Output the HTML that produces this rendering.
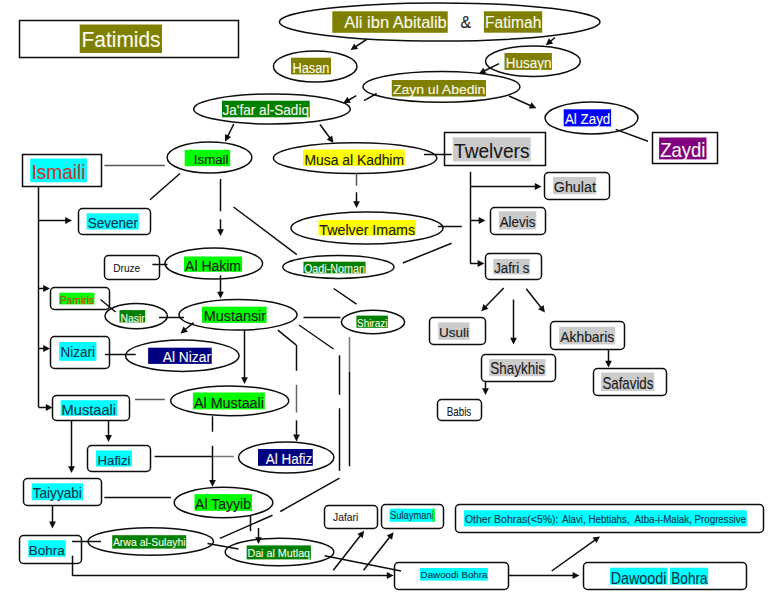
<!DOCTYPE html><html><head><meta charset="utf-8"><style>html,body{margin:0;padding:0;background:#fff;width:776px;height:600px;overflow:hidden}svg{display:block}text{font-family:"Liberation Sans",sans-serif}</style></head><body>
<svg width="776" height="600" viewBox="0 0 776 600">
<rect x="0" y="0" width="776" height="600" fill="#fff"/>
<ellipse cx="439.7" cy="22" rx="160.3" ry="19" fill="none" stroke="#0d0d0d" stroke-width="1.5"/>
<ellipse cx="315.2" cy="66.5" rx="41.8" ry="15.5" fill="none" stroke="#0d0d0d" stroke-width="1.5"/>
<ellipse cx="532.9" cy="61.2" rx="47.4" ry="15.2" fill="none" stroke="#0d0d0d" stroke-width="1.5"/>
<ellipse cx="441.5" cy="86.8" rx="78.5" ry="15.4" fill="none" stroke="#0d0d0d" stroke-width="1.5"/>
<ellipse cx="272" cy="109" rx="78.3" ry="15" fill="none" stroke="#0d0d0d" stroke-width="1.5"/>
<ellipse cx="591.5" cy="118" rx="46.5" ry="16" fill="none" stroke="#0d0d0d" stroke-width="1.5"/>
<ellipse cx="209.5" cy="157.5" rx="42.4" ry="15.5" fill="none" stroke="#0d0d0d" stroke-width="1.5"/>
<ellipse cx="355.1" cy="158.1" rx="81.7" ry="15.4" fill="none" stroke="#0d0d0d" stroke-width="1.5"/>
<ellipse cx="367" cy="228" rx="76" ry="16" fill="none" stroke="#0d0d0d" stroke-width="1.5"/>
<ellipse cx="213.8" cy="263.5" rx="48.8" ry="15.5" fill="none" stroke="#0d0d0d" stroke-width="1.5"/>
<ellipse cx="338.4" cy="267" rx="55.6" ry="11.4" fill="none" stroke="#0d0d0d" stroke-width="1.5"/>
<ellipse cx="136.2" cy="316.1" rx="31.2" ry="12.6" fill="none" stroke="#0d0d0d" stroke-width="1.5"/>
<ellipse cx="238" cy="314.8" rx="59" ry="15.3" fill="none" stroke="#0d0d0d" stroke-width="1.5"/>
<ellipse cx="373" cy="322" rx="31.6" ry="11.7" fill="none" stroke="#0d0d0d" stroke-width="1.5"/>
<ellipse cx="182.3" cy="355.7" rx="56.7" ry="15.7" fill="none" stroke="#0d0d0d" stroke-width="1.5"/>
<ellipse cx="229.7" cy="400.8" rx="59" ry="14.9" fill="none" stroke="#0d0d0d" stroke-width="1.5"/>
<ellipse cx="286.2" cy="457.5" rx="47.7" ry="15.5" fill="none" stroke="#0d0d0d" stroke-width="1.5"/>
<ellipse cx="223.5" cy="502.5" rx="49.3" ry="15.3" fill="none" stroke="#0d0d0d" stroke-width="1.5"/>
<ellipse cx="150.7" cy="541.5" rx="62.7" ry="13.75" fill="none" stroke="#0d0d0d" stroke-width="1.5"/>
<ellipse cx="279.5" cy="552" rx="54.3" ry="13.8" fill="none" stroke="#0d0d0d" stroke-width="1.5"/>
<rect x="19.5" y="20.5" width="219" height="37" rx="0" fill="none" stroke="#0d0d0d" stroke-width="1.5"/>
<rect x="22.5" y="154.5" width="79" height="32" rx="0" fill="none" stroke="#0d0d0d" stroke-width="1.5"/>
<rect x="444.5" y="132.5" width="101" height="33" rx="0" fill="none" stroke="#0d0d0d" stroke-width="1.5"/>
<rect x="652.5" y="132.5" width="65" height="31" rx="0" fill="none" stroke="#0d0d0d" stroke-width="1.5"/>
<rect x="78.5" y="208.5" width="72" height="26" rx="4" fill="none" stroke="#0d0d0d" stroke-width="1.5"/>
<rect x="104.5" y="255.5" width="55" height="24" rx="4" fill="none" stroke="#0d0d0d" stroke-width="1.5"/>
<rect x="50.5" y="287.5" width="59" height="22" rx="4" fill="none" stroke="#0d0d0d" stroke-width="1.5"/>
<rect x="50.5" y="336.5" width="59" height="32" rx="4" fill="none" stroke="#0d0d0d" stroke-width="1.5"/>
<rect x="52.5" y="395.5" width="77" height="25" rx="4" fill="none" stroke="#0d0d0d" stroke-width="1.5"/>
<rect x="87.5" y="445.5" width="63" height="26" rx="4" fill="none" stroke="#0d0d0d" stroke-width="1.5"/>
<rect x="23.5" y="478.5" width="78" height="27" rx="4" fill="none" stroke="#0d0d0d" stroke-width="1.5"/>
<rect x="19.5" y="535.5" width="62" height="28" rx="4" fill="none" stroke="#0d0d0d" stroke-width="1.5"/>
<rect x="544.5" y="172.5" width="65" height="27" rx="4" fill="none" stroke="#0d0d0d" stroke-width="1.5"/>
<rect x="490.5" y="207.5" width="55" height="27" rx="4" fill="none" stroke="#0d0d0d" stroke-width="1.5"/>
<rect x="485.5" y="253.5" width="56" height="26" rx="4" fill="none" stroke="#0d0d0d" stroke-width="1.5"/>
<rect x="429.5" y="317.5" width="56" height="27" rx="4" fill="none" stroke="#0d0d0d" stroke-width="1.5"/>
<rect x="550.5" y="321.5" width="74" height="28" rx="4" fill="none" stroke="#0d0d0d" stroke-width="1.5"/>
<rect x="481.5" y="354.5" width="74" height="27" rx="4" fill="none" stroke="#0d0d0d" stroke-width="1.5"/>
<rect x="593.5" y="368.5" width="73" height="27" rx="4" fill="none" stroke="#0d0d0d" stroke-width="1.5"/>
<rect x="437.5" y="399.5" width="44" height="21" rx="4" fill="none" stroke="#0d0d0d" stroke-width="1.5"/>
<rect x="324.5" y="505.5" width="53" height="23" rx="4" fill="none" stroke="#0d0d0d" stroke-width="1.5"/>
<rect x="381.5" y="504.5" width="62" height="24" rx="4" fill="none" stroke="#0d0d0d" stroke-width="1.5"/>
<rect x="455.5" y="504.5" width="308" height="28" rx="4" fill="none" stroke="#0d0d0d" stroke-width="1.5"/>
<rect x="394.5" y="562.5" width="114" height="27" rx="4" fill="none" stroke="#0d0d0d" stroke-width="1.5"/>
<rect x="583.5" y="562.5" width="163" height="27" rx="4" fill="none" stroke="#0d0d0d" stroke-width="1.5"/>
<rect x="79.7" y="24.5" width="82.3" height="28.5" fill="#808000"/>
<text x="81.6" y="46.7" font-size="21.8" fill="#fbfbf0" stroke="#fbfbf0" stroke-width="0.1" textLength="78.9" lengthAdjust="spacingAndGlyphs" xml:space="preserve">Fatimids</text>
<rect x="332.3" y="11.3" width="115.4" height="21.5" fill="#808000"/>
<text x="344.2" y="28" font-size="16.28" fill="#fbfbf0" stroke="#fbfbf0" stroke-width="0.1" textLength="102.6" lengthAdjust="spacingAndGlyphs" xml:space="preserve">Ali ibn Abitalib</text>
<rect x="483.9" y="11.3" width="58.3" height="21.4" fill="#808000"/>
<text x="485" y="27.8" font-size="15.7" fill="#fbfbf0" stroke="#fbfbf0" stroke-width="0.1" textLength="56.3" lengthAdjust="spacingAndGlyphs" xml:space="preserve">Fatimah</text>
<rect x="291" y="57.7" width="40" height="16.7" fill="#808000"/>
<text x="292.5" y="73.2" font-size="14.68" fill="#fbfbf0" stroke="#fbfbf0" stroke-width="0.1" textLength="37" lengthAdjust="spacingAndGlyphs" xml:space="preserve">Hasan</text>
<rect x="504.5" y="53" width="47.4" height="16.9" fill="#808000"/>
<text x="505.7" y="68.3" font-size="13.95" fill="#fbfbf0" stroke="#fbfbf0" stroke-width="0.1" textLength="45.7" lengthAdjust="spacingAndGlyphs" xml:space="preserve">Husayn</text>
<rect x="391.8" y="80" width="94.2" height="16.5" fill="#808000"/>
<text x="392.9" y="94.2" font-size="13.37" fill="#fbfbf0" stroke="#fbfbf0" stroke-width="0.1" textLength="92.5" lengthAdjust="spacingAndGlyphs" xml:space="preserve">Zayn ul Abedin</text>
<rect x="222" y="100.7" width="87.7" height="16.6" fill="#008000"/>
<text x="222.5" y="115.3" font-size="14.1" fill="#fbfbf0" stroke="#fbfbf0" stroke-width="0.1" textLength="86.5" lengthAdjust="spacingAndGlyphs" xml:space="preserve">Ja'far al-Sadiq</text>
<rect x="563.7" y="109.3" width="47.4" height="17.1" fill="#0000ff"/>
<text x="564.9" y="124.3" font-size="14.39" fill="#fbfbf0" stroke="#fbfbf0" stroke-width="0.1" textLength="45.4" lengthAdjust="spacingAndGlyphs" xml:space="preserve">Al Zayd</text>
<rect x="659.1" y="137.5" width="47.4" height="21.9" fill="#800080"/>
<text x="660.2" y="156.7" font-size="19.48" fill="#fbfbf0" stroke="#fbfbf0" stroke-width="0.1" textLength="45.3" lengthAdjust="spacingAndGlyphs" xml:space="preserve">Zaydi</text>
<rect x="30.2" y="158.5" width="56.8" height="23.7" fill="#00ffff"/>
<text x="31.5" y="179.2" font-size="19.62" fill="#c0392b" stroke="#c0392b" stroke-width="0.12" textLength="54" lengthAdjust="spacingAndGlyphs" xml:space="preserve">Ismaili</text>
<rect x="184.7" y="149.8" width="45.5" height="16.4" fill="#00ff00"/>
<text x="193.8" y="164.4" font-size="13.08" fill="#1a1a1a" stroke="#1a1a1a" stroke-width="0.12" textLength="34.7" lengthAdjust="spacingAndGlyphs" xml:space="preserve">Ismail</text>
<rect x="303" y="149.6" width="101.7" height="16.3" fill="#ffff00"/>
<text x="304.5" y="164.6" font-size="14.53" fill="#1a1a1a" stroke="#1a1a1a" stroke-width="0.12" textLength="99.5" lengthAdjust="spacingAndGlyphs" xml:space="preserve">Musa al Kadhim</text>
<rect x="452.8" y="137.4" width="77.9" height="24.1" fill="#cbcbcb"/>
<text x="454" y="157.6" font-size="20.2" fill="#1a1a1a" stroke="#1a1a1a" stroke-width="0.12" textLength="75.5" lengthAdjust="spacingAndGlyphs" xml:space="preserve">Twelvers</text>
<rect x="553.2" y="177" width="43.1" height="17.2" fill="#cbcbcb"/>
<text x="553.8" y="192" font-size="14.68" fill="#1a1a1a" stroke="#1a1a1a" stroke-width="0.12" textLength="42.1" lengthAdjust="spacingAndGlyphs" xml:space="preserve">Ghulat</text>
<rect x="86.6" y="213.3" width="52.1" height="16.2" fill="#00ffff"/>
<text x="87.7" y="228" font-size="14.39" fill="#10324a" stroke="#10324a" stroke-width="0.12" textLength="50.3" lengthAdjust="spacingAndGlyphs" xml:space="preserve">Sevener</text>
<rect x="318.5" y="220" width="97.4" height="15.5" fill="#ffff00"/>
<text x="319.3" y="234.7" font-size="14.53" fill="#1a1a1a" stroke="#1a1a1a" stroke-width="0.12" textLength="95.8" lengthAdjust="spacingAndGlyphs" xml:space="preserve">Twelver Imams</text>
<rect x="498.8" y="211.3" width="37.5" height="18.3" fill="#cbcbcb"/>
<text x="499.7" y="226.5" font-size="14.1" fill="#1a1a1a" stroke="#1a1a1a" stroke-width="0.12" textLength="35.7" lengthAdjust="spacingAndGlyphs" xml:space="preserve">Alevis</text>
<rect x="184" y="256.5" width="58.1" height="15.3" fill="#00ff00"/>
<text x="185.1" y="270.7" font-size="15.26" fill="#1a1a1a" stroke="#1a1a1a" stroke-width="0.12" textLength="55.9" lengthAdjust="spacingAndGlyphs" xml:space="preserve">Al Hakim</text>
<rect x="303.5" y="261.7" width="62" height="11.6" fill="#008000"/>
<text x="304" y="272.5" font-size="12.06" fill="#fbfbf0" stroke="#fbfbf0" stroke-width="0.1" textLength="61" lengthAdjust="spacingAndGlyphs" xml:space="preserve">Qadi-Noman</text>
<rect x="493.3" y="258.9" width="36.6" height="15.6" fill="#cbcbcb"/>
<text x="494.2" y="273" font-size="13.81" fill="#1a1a1a" stroke="#1a1a1a" stroke-width="0.12" textLength="35.2" lengthAdjust="spacingAndGlyphs" xml:space="preserve">Jafri s</text>
<rect x="59.2" y="292.7" width="35.2" height="11.7" fill="#00ff00"/>
<text x="59.7" y="303.9" font-size="10.9" fill="#c0401c" stroke="#c0401c" stroke-width="0.12" textLength="34.4" lengthAdjust="spacingAndGlyphs" xml:space="preserve">Pamiris</text>
<rect x="119.5" y="310.1" width="25.7" height="12.3" fill="#008000"/>
<text x="120.4" y="321.5" font-size="10.9" fill="#fbfbf0" stroke="#fbfbf0" stroke-width="0.1" textLength="24.3" lengthAdjust="spacingAndGlyphs" xml:space="preserve">Nasir</text>
<rect x="202" y="306.7" width="64.6" height="16.2" fill="#00ff00"/>
<text x="203.8" y="321.4" font-size="13.81" fill="#1a1a1a" stroke="#1a1a1a" stroke-width="0.12" textLength="62.3" lengthAdjust="spacingAndGlyphs" xml:space="preserve">Mustansir</text>
<rect x="356.4" y="315.6" width="31.5" height="12.2" fill="#008000"/>
<text x="357" y="327.2" font-size="11.19" fill="#fbfbf0" stroke="#fbfbf0" stroke-width="0.1" textLength="30.4" lengthAdjust="spacingAndGlyphs" xml:space="preserve">Shirazi</text>
<rect x="438.2" y="322.4" width="31.3" height="17.4" fill="#cbcbcb"/>
<text x="439" y="336.9" font-size="13.23" fill="#1a1a1a" stroke="#1a1a1a" stroke-width="0.12" textLength="30.1" lengthAdjust="spacingAndGlyphs" xml:space="preserve">Usuli</text>
<rect x="559.1" y="326.8" width="56.1" height="17.6" fill="#cbcbcb"/>
<text x="560.3" y="341.9" font-size="14.97" fill="#1a1a1a" stroke="#1a1a1a" stroke-width="0.12" textLength="53.9" lengthAdjust="spacingAndGlyphs" xml:space="preserve">Akhbaris</text>
<rect x="59.2" y="342" width="37.2" height="18.8" fill="#00ffff"/>
<text x="60.5" y="356.9" font-size="14.39" fill="#10324a" stroke="#10324a" stroke-width="0.12" textLength="34.4" lengthAdjust="spacingAndGlyphs" xml:space="preserve">Nizari</text>
<rect x="148.1" y="347.7" width="63.6" height="16.2" fill="#000080"/>
<text x="162.8" y="362.4" font-size="14.39" fill="#fbfbf0" stroke="#fbfbf0" stroke-width="0.1" textLength="48.2" lengthAdjust="spacingAndGlyphs" xml:space="preserve">Al Nizar</text>
<rect x="489.3" y="359.1" width="56.3" height="17.1" fill="#cbcbcb"/>
<text x="490.3" y="374.3" font-size="15.7" fill="#1a1a1a" stroke="#1a1a1a" stroke-width="0.12" textLength="54.6" lengthAdjust="spacingAndGlyphs" xml:space="preserve">Shaykhis</text>
<rect x="601.2" y="372.5" width="53.1" height="18.4" fill="#cbcbcb"/>
<text x="602.4" y="388.5" font-size="15.99" fill="#1a1a1a" stroke="#1a1a1a" stroke-width="0.12" textLength="51" lengthAdjust="spacingAndGlyphs" xml:space="preserve">Safavids</text>
<rect x="192.9" y="392.5" width="71.9" height="16.9" fill="#00ff00"/>
<text x="194" y="407.6" font-size="14.24" fill="#1a1a1a" stroke="#1a1a1a" stroke-width="0.12" textLength="69.9" lengthAdjust="spacingAndGlyphs" xml:space="preserve">Al Mustaali</text>
<rect x="60.7" y="400.2" width="56.3" height="15.6" fill="#00ffff"/>
<text x="61.6" y="414.9" font-size="15.12" fill="#10324a" stroke="#10324a" stroke-width="0.12" textLength="54.5" lengthAdjust="spacingAndGlyphs" xml:space="preserve">Mustaali</text>
<rect x="96" y="450.4" width="35.9" height="16.2" fill="#00ffff"/>
<text x="97.6" y="465.4" font-size="13.66" fill="#10324a" stroke="#10324a" stroke-width="0.12" textLength="32.9" lengthAdjust="spacingAndGlyphs" xml:space="preserve">Hafizi</text>
<rect x="258" y="449" width="54.8" height="16.8" fill="#000080"/>
<text x="265.8" y="463.8" font-size="14.39" fill="#fbfbf0" stroke="#fbfbf0" stroke-width="0.1" textLength="46.4" lengthAdjust="spacingAndGlyphs" xml:space="preserve">Al Hafiz</text>
<rect x="31.7" y="483.3" width="51.3" height="16.9" fill="#00ffff"/>
<text x="32.75" y="498.25" font-size="14.17" fill="#10324a" stroke="#10324a" stroke-width="0.12" textLength="49.05" lengthAdjust="spacingAndGlyphs" xml:space="preserve">Taiyyabi</text>
<rect x="194.5" y="494.1" width="57.5" height="16.7" fill="#00ff00"/>
<text x="195.1" y="509.2" font-size="14.24" fill="#1a1a1a" stroke="#1a1a1a" stroke-width="0.12" textLength="55.9" lengthAdjust="spacingAndGlyphs" xml:space="preserve">Al Tayyib</text>
<rect x="389.5" y="508.7" width="45.2" height="13.1" fill="#00ffff"/>
<text x="390" y="519.3" font-size="10.47" fill="#10324a" stroke="#10324a" stroke-width="0.12" textLength="43.9" lengthAdjust="spacingAndGlyphs" xml:space="preserve">Sulaymani</text>
<rect x="463.9" y="510.2" width="282.9" height="16.2" fill="#00ffff"/>
<text x="464.9" y="523" font-size="11.34" fill="#10324a" stroke="#10324a" stroke-width="0.12" textLength="93.6" lengthAdjust="spacingAndGlyphs" xml:space="preserve">Other Bohras(&lt;5%):</text>
<rect x="746.8" y="510.2" width="0" height="16.2" fill="#00ffff"/>
<text x="561.9" y="523" font-size="10.61" fill="#10324a" stroke="#10324a" stroke-width="0.12" textLength="184.1" lengthAdjust="spacingAndGlyphs" xml:space="preserve">Alavi, Hebtiahs,  Atba-i-Malak, Progressive</text>
<rect x="432.6" y="508.7" width="2.1" height="13.1" fill="#00ff00"/>
<rect x="28.25" y="540.25" width="37.5" height="16.5" fill="#00ffff"/>
<text x="28.7" y="554.5" font-size="13.08" fill="#10324a" stroke="#10324a" stroke-width="0.12" textLength="36" lengthAdjust="spacingAndGlyphs" xml:space="preserve">Bohra</text>
<rect x="112.2" y="535.2" width="74" height="13.4" fill="#008000"/>
<text x="112.9" y="546.2" font-size="10.9" fill="#fbfbf0" stroke="#fbfbf0" stroke-width="0.1" textLength="72.7" lengthAdjust="spacingAndGlyphs" xml:space="preserve">Arwa al-Sulayhi</text>
<rect x="246.7" y="545.4" width="64.2" height="14" fill="#008000"/>
<text x="247.4" y="556.7" font-size="11.05" fill="#fbfbf0" stroke="#fbfbf0" stroke-width="0.1" textLength="62.7" lengthAdjust="spacingAndGlyphs" xml:space="preserve">Dai al Mutlaq</text>
<rect x="419.8" y="568" width="68.1" height="12.6" fill="#00ffff"/>
<text x="420.6" y="577.7" font-size="9.88" fill="#10324a" stroke="#10324a" stroke-width="0.12" textLength="66.9" lengthAdjust="spacingAndGlyphs" xml:space="preserve">Dawoodi Bohra</text>
<rect x="610" y="567.7" width="57.6" height="16.9" fill="#00ffff"/>
<text x="610.7" y="583.5" font-size="15.99" fill="#10324a" stroke="#10324a" stroke-width="0.12" textLength="55.8" lengthAdjust="spacingAndGlyphs" xml:space="preserve">Dawoodi</text>
<rect x="669.8" y="567.7" width="38.4" height="16.9" fill="#00ffff"/>
<text x="671.3" y="583.5" font-size="15.99" fill="#10324a" stroke="#10324a" stroke-width="0.12" textLength="36.2" lengthAdjust="spacingAndGlyphs" xml:space="preserve">Bohra</text>
<text x="460.4" y="28" font-size="15.99" fill="#1a1a1a" stroke="#1a1a1a" stroke-width="0.1" textLength="10.6" lengthAdjust="spacingAndGlyphs">&amp;</text>
<text x="113.3" y="271.8" font-size="11.19" fill="#1a1a1a" stroke="#1a1a1a" stroke-width="0.1" textLength="26.9" lengthAdjust="spacingAndGlyphs">Druze</text>
<text x="446.75" y="416.25" font-size="11.99" fill="#1a1a1a" stroke="#1a1a1a" stroke-width="0.1" textLength="24.5" lengthAdjust="spacingAndGlyphs">Babis</text>
<text x="333.1" y="520.9" font-size="10.47" fill="#1a1a1a" stroke="#1a1a1a" stroke-width="0.1" textLength="25.1" lengthAdjust="spacingAndGlyphs">Jafari</text>
<line x1="366.5" y1="39.5" x2="355.05" y2="47.02" stroke="#0d0d0d" stroke-width="1.5"/>
<polygon points="350.5,50 354.32,43.43 358.05,49.11" fill="#0d0d0d"/>
<line x1="555" y1="37.5" x2="549.97" y2="41.71" stroke="#0d0d0d" stroke-width="1.5"/>
<polygon points="545.8,45.2 548.83,38.23 553.2,43.44" fill="#0d0d0d"/>
<line x1="499" y1="63.7" x2="483.68" y2="71.29" stroke="#0d0d0d" stroke-width="1.5"/>
<polygon points="478.8,73.7 483.39,67.64 486.4,73.73" fill="#0d0d0d"/>
<line x1="509" y1="96" x2="531.43" y2="105.99" stroke="#0d0d0d" stroke-width="1.5"/>
<polygon points="536.4,108.2 528.8,108.54 531.57,102.33" fill="#0d0d0d"/>
<line x1="356.3" y1="95.7" x2="347.92" y2="100.5" stroke="#0d0d0d" stroke-width="1.5"/>
<polygon points="343.2,103.2 347.41,96.87 350.79,102.77" fill="#0d0d0d"/>
<line x1="364" y1="100.6" x2="376.7" y2="93.5" stroke="#0d0d0d" stroke-width="1.5"/>
<line x1="320" y1="124.5" x2="330.28" y2="138.51" stroke="#0d0d0d" stroke-width="1.5"/>
<polygon points="333.5,142.9 326.74,139.43 332.22,135.41" fill="#0d0d0d"/>
<line x1="233.8" y1="124" x2="227.42" y2="136.83" stroke="#0d0d0d" stroke-width="1.5"/>
<polygon points="225,141.7 224.98,134.1 231.07,137.12" fill="#0d0d0d"/>
<line x1="104.5" y1="165.5" x2="164.8" y2="165.5" stroke="#555" stroke-width="1.5"/>
<line x1="38.5" y1="186.3" x2="38.5" y2="407.4" stroke="#0d0d0d" stroke-width="1.5"/>
<line x1="38.7" y1="220.5" x2="66.56" y2="220.5" stroke="#0d0d0d" stroke-width="1.5"/>
<polygon points="72,220.5 65.2,223.9 65.2,217.1" fill="#0d0d0d"/>
<line x1="38.7" y1="288.5" x2="44.56" y2="288.5" stroke="#0d0d0d" stroke-width="1.5"/>
<polygon points="50,288.5 43.2,291.9 43.2,285.1" fill="#0d0d0d"/>
<line x1="38.7" y1="348.5" x2="44.56" y2="348.5" stroke="#0d0d0d" stroke-width="1.5"/>
<polygon points="50,348.5 43.2,351.9 43.2,345.1" fill="#0d0d0d"/>
<line x1="38.7" y1="407.5" x2="47.16" y2="407.5" stroke="#0d0d0d" stroke-width="1.5"/>
<polygon points="52.6,407.5 45.8,410.9 45.8,404.1" fill="#0d0d0d"/>
<line x1="180" y1="173.5" x2="150" y2="199.7" stroke="#0d0d0d" stroke-width="1.5"/>
<line x1="220.5" y1="179" x2="220.5" y2="211.25" stroke="#0d0d0d" stroke-width="1.5"/>
<line x1="220.5" y1="219.4" x2="220.5" y2="230.56" stroke="#0d0d0d" stroke-width="1.5"/>
<polygon points="220.5,236 217.1,229.2 223.9,229.2" fill="#0d0d0d"/>
<line x1="233.5" y1="207" x2="296.8" y2="254.6" stroke="#0d0d0d" stroke-width="1.5"/>
<line x1="152.4" y1="264.5" x2="167.5" y2="264.5" stroke="#0d0d0d" stroke-width="1.5"/>
<line x1="220.5" y1="275.4" x2="220.5" y2="293.16" stroke="#0d0d0d" stroke-width="1.5"/>
<polygon points="220.5,298.6 217.1,291.8 223.9,291.8" fill="#0d0d0d"/>
<line x1="100.5" y1="299.5" x2="115.6" y2="312" stroke="#0d0d0d" stroke-width="1.5"/>
<line x1="159" y1="317.5" x2="184" y2="317.5" stroke="#0d0d0d" stroke-width="1.5"/>
<line x1="193.6" y1="322.6" x2="184.68" y2="330.02" stroke="#0d0d0d" stroke-width="1.5"/>
<polygon points="180.5,333.5 183.55,326.54 187.9,331.76" fill="#0d0d0d"/>
<line x1="104.9" y1="354.5" x2="135.7" y2="354.5" stroke="#0d0d0d" stroke-width="1.5"/>
<line x1="244.5" y1="330" x2="244.5" y2="378.56" stroke="#0d0d0d" stroke-width="1.5"/>
<polygon points="244.5,384 241.1,377.2 247.9,377.2" fill="#0d0d0d"/>
<line x1="135" y1="399.5" x2="164.8" y2="399.5" stroke="#555" stroke-width="1.5"/>
<line x1="303.5" y1="317.5" x2="340.4" y2="317.5" stroke="#0d0d0d" stroke-width="1.5"/>
<line x1="333.7" y1="288.5" x2="356.5" y2="304.2" stroke="#0d0d0d" stroke-width="1.5"/>
<line x1="424" y1="154.5" x2="451.6" y2="154.5" stroke="#0d0d0d" stroke-width="1.5"/>
<line x1="356.5" y1="173.2" x2="356.5" y2="185.7" stroke="#555" stroke-width="1.5"/>
<line x1="356.5" y1="192.3" x2="356.5" y2="202.56" stroke="#0d0d0d" stroke-width="1.5"/>
<polygon points="356.5,208 353.1,201.2 359.9,201.2" fill="#0d0d0d"/>
<line x1="438" y1="226.5" x2="461.8" y2="226.5" stroke="#0d0d0d" stroke-width="1.5"/>
<line x1="470.5" y1="171.8" x2="470.5" y2="263.6" stroke="#0d0d0d" stroke-width="1.5"/>
<line x1="470.3" y1="186.5" x2="536.16" y2="186.5" stroke="#0d0d0d" stroke-width="1.5"/>
<polygon points="541.6,186.5 534.8,189.9 534.8,183.1" fill="#0d0d0d"/>
<line x1="470.3" y1="220.5" x2="480.06" y2="220.5" stroke="#0d0d0d" stroke-width="1.5"/>
<polygon points="485.5,220.5 478.7,223.9 478.7,217.1" fill="#0d0d0d"/>
<line x1="470.3" y1="263.5" x2="478.96" y2="263.5" stroke="#0d0d0d" stroke-width="1.5"/>
<polygon points="484.4,263.5 477.6,266.9 477.6,260.1" fill="#0d0d0d"/>
<line x1="451.6" y1="243.2" x2="402.8" y2="263" stroke="#0d0d0d" stroke-width="1.5"/>
<line x1="503.75" y1="288" x2="485.03" y2="307.34" stroke="#0d0d0d" stroke-width="1.5"/>
<polygon points="481.25,311.25 483.54,304 488.42,308.73" fill="#0d0d0d"/>
<line x1="513.5" y1="299.5" x2="513.5" y2="339.06" stroke="#0d0d0d" stroke-width="1.5"/>
<polygon points="513.5,344.5 510.1,337.7 516.9,337.7" fill="#0d0d0d"/>
<line x1="526.25" y1="288.75" x2="541.63" y2="308.23" stroke="#0d0d0d" stroke-width="1.5"/>
<polygon points="545,312.5 538.12,309.27 543.46,305.06" fill="#0d0d0d"/>
<line x1="608.5" y1="349" x2="608.5" y2="362.06" stroke="#0d0d0d" stroke-width="1.5"/>
<polygon points="608.5,367.5 605.1,360.7 611.9,360.7" fill="#0d0d0d"/>
<line x1="485.5" y1="381" x2="485.5" y2="389.56" stroke="#0d0d0d" stroke-width="1.5"/>
<polygon points="485.5,395 482.1,388.2 488.9,388.2" fill="#0d0d0d"/>
<line x1="615.7" y1="129.4" x2="648" y2="141.3" stroke="#0d0d0d" stroke-width="1.5"/>
<line x1="277.9" y1="330.2" x2="296" y2="344.8" stroke="#0d0d0d" stroke-width="1.5"/>
<line x1="296.5" y1="344.8" x2="296.5" y2="370.8" stroke="#0d0d0d" stroke-width="1.5"/>
<line x1="296.5" y1="384.8" x2="296.5" y2="412.6" stroke="#666" stroke-width="1.5"/>
<line x1="296.5" y1="420.3" x2="296.5" y2="435.96" stroke="#0d0d0d" stroke-width="1.5"/>
<polygon points="296.5,441.4 293.1,434.6 299.9,434.6" fill="#0d0d0d"/>
<line x1="299" y1="325" x2="333.5" y2="349" stroke="#0d0d0d" stroke-width="1.5"/>
<line x1="339.5" y1="355.2" x2="339.5" y2="394.8" stroke="#0d0d0d" stroke-width="1.5"/>
<line x1="339.5" y1="408.3" x2="339.5" y2="470.9" stroke="#0d0d0d" stroke-width="1.5"/>
<line x1="349.5" y1="337" x2="349.5" y2="372" stroke="#777" stroke-width="1.5"/>
<line x1="349.5" y1="372" x2="349.5" y2="466.3" stroke="#0d0d0d" stroke-width="1.5"/>
<line x1="212.5" y1="416.3" x2="212.5" y2="431.7" stroke="#0d0d0d" stroke-width="1.5"/>
<line x1="212.5" y1="445.8" x2="212.5" y2="481.36" stroke="#0d0d0d" stroke-width="1.5"/>
<polygon points="212.5,486.8 209.1,480 215.9,480" fill="#0d0d0d"/>
<line x1="108.5" y1="420" x2="108.5" y2="436.46" stroke="#0d0d0d" stroke-width="1.5"/>
<polygon points="108.5,441.9 105.1,435.1 111.9,435.1" fill="#0d0d0d"/>
<line x1="71.5" y1="420" x2="71.5" y2="467.56" stroke="#0d0d0d" stroke-width="1.5"/>
<polygon points="71.5,473 68.1,466.2 74.9,466.2" fill="#0d0d0d"/>
<line x1="154.7" y1="456.5" x2="213" y2="456.5" stroke="#0d0d0d" stroke-width="1.5"/>
<line x1="213" y1="456.5" x2="233.8" y2="456.5" stroke="#777" stroke-width="1.5"/>
<line x1="104.4" y1="497.5" x2="170.9" y2="497.5" stroke="#0d0d0d" stroke-width="1.5"/>
<line x1="52.5" y1="505.6" x2="52.5" y2="522.96" stroke="#0d0d0d" stroke-width="1.5"/>
<polygon points="52.5,528.4 49.1,521.6 55.9,521.6" fill="#0d0d0d"/>
<line x1="72" y1="541.5" x2="101" y2="541.5" stroke="#0d0d0d" stroke-width="1.5"/>
<line x1="72.5" y1="555.6" x2="72.5" y2="575.8" stroke="#0d0d0d" stroke-width="1.5"/>
<line x1="72.6" y1="575.5" x2="388.16" y2="575.5" stroke="#0d0d0d" stroke-width="1.5"/>
<polygon points="393.6,575.5 386.8,578.9 386.8,572.1" fill="#0d0d0d"/>
<line x1="339.5" y1="478.1" x2="280.3" y2="511.5" stroke="#0d0d0d" stroke-width="1.5"/>
<line x1="272.5" y1="515.3" x2="219.9" y2="538.4" stroke="#0d0d0d" stroke-width="1.5"/>
<line x1="250.5" y1="515.3" x2="250.5" y2="531.1" stroke="#0d0d0d" stroke-width="1.5"/>
<line x1="258.5" y1="528" x2="258.5" y2="538.66" stroke="#0d0d0d" stroke-width="1.5"/>
<polygon points="258.5,544.1 255.1,537.3 261.9,537.3" fill="#0d0d0d"/>
<line x1="207.5" y1="543.5" x2="238.5" y2="549" stroke="#0d0d0d" stroke-width="1.5"/>
<line x1="324.6" y1="555.8" x2="401" y2="570.9" stroke="#0d0d0d" stroke-width="1.5"/>
<line x1="333.3" y1="570.2" x2="360.85" y2="534.98" stroke="#0d0d0d" stroke-width="1.5"/>
<polygon points="364.2,530.7 362.69,538.15 357.33,533.96" fill="#0d0d0d"/>
<line x1="363.5" y1="570.2" x2="390.22" y2="536.56" stroke="#0d0d0d" stroke-width="1.5"/>
<polygon points="393.6,532.3 392.03,539.74 386.71,535.51" fill="#0d0d0d"/>
<line x1="508.4" y1="575.5" x2="573.96" y2="575.5" stroke="#0d0d0d" stroke-width="1.5"/>
<polygon points="579.4,575.5 572.6,578.9 572.6,572.1" fill="#0d0d0d"/>
<line x1="551.7" y1="571" x2="595.58" y2="539.57" stroke="#0d0d0d" stroke-width="1.5"/>
<polygon points="600,536.4 596.45,543.12 592.49,537.6" fill="#0d0d0d"/>
</svg></body></html>
